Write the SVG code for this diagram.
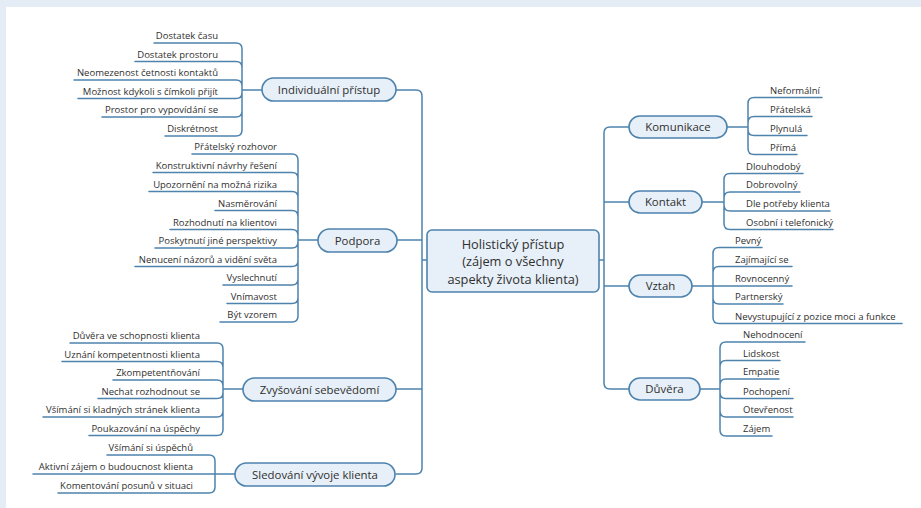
<svg xmlns="http://www.w3.org/2000/svg" width="921" height="508" viewBox="0 0 921 508">
<style>
.bg{fill:#ffffff}
.frame{fill:#e4ecf5}
.ln{fill:none;stroke:#4d83ad;stroke-width:1.5;stroke-linecap:round;stroke-linejoin:round}
.pill{fill:#e7eff8;stroke:#4d83ad;stroke-width:1.6}
.core{fill:#e7eff8;stroke:#4d83ad;stroke-width:1.6}
text{font-family:"Open Sans","Noto Sans","DejaVu Sans",sans-serif;fill:#2f2f2f}
.lf{font-size:9.5px}
.l{text-anchor:end}
.r{text-anchor:start}
.mn{font-size:11.4px;text-anchor:middle}
.ct{font-size:12.8px;text-anchor:middle}
</style>
<rect class="bg" x="0" y="0" width="921" height="508"/>
<rect class="frame" x="0" y="0" width="921" height="7"/>
<rect class="frame" x="0" y="0" width="6" height="508"/>

<g id="connectors">
  <!-- trunks -->
  <path class="ln" d="M396 90 H416 Q422 90 422 96 V260 M396 474 H416 Q422 474 422 468 V260 M397 240 H422 M396 389 H422 M422 260 H427"/>
  <path class="ln" d="M629 127 H610 Q604 127 604 133 V260 M629 389 H610 Q604 389 604 383 V260 M629 202 H604 M629 286 H604 M599 260 H604"/>
  <!-- Individuální přístup -->
  <path class="ln" d="M242 90 H262
    M154 43 H236 Q242 43 242 49 V90
    M135 61.5 H236 Q242 61.5 242 67.5 V90
    M74 80 H236 Q242 80 242 86 V90
    M78 98.5 H236 Q242 98.5 242 92.5 V90
    M102 117 H236 Q242 117 242 111 V90
    M165 136 H236 Q242 136 242 130 V90"/>
  <!-- Podpora -->
  <path class="ln" d="M298 240 H318
    M192 154 H292 Q298 154 298 160 V240
    M153 172.5 H292 Q298 172.5 298 178.5 V240
    M149 191.5 H292 Q298 191.5 298 197.5 V240
    M215 210.5 H292 Q298 210.5 298 216.5 V240
    M170 229.5 H292 Q298 229.5 298 235.5 V240
    M155 248 H292 Q298 248 298 242 V240
    M135 266.5 H292 Q298 266.5 298 260.5 V240
    M223 285 H292 Q298 285 298 279 V240
    M227 303.5 H292 Q298 303.5 298 297.5 V240
    M220 322 H292 Q298 322 298 316 V240"/>
  <!-- Zvyšování sebevědomí -->
  <path class="ln" d="M223 389 H243
    M70 343 H217 Q223 343 223 349 V389
    M62 361.5 H217 Q223 361.5 223 367.5 V389
    M113 380 H217 Q223 380 223 386 V389
    M98 398.5 H217 Q223 398.5 223 392.5 V389
    M43 417 H217 Q223 417 223 411 V389
    M89 435.5 H217 Q223 435.5 223 429.5 V389"/>
  <!-- Sledování vývoje klienta -->
  <path class="ln" d="M215 474 H235
    M107 455 H209 Q215 455 215 461 V474
    M33 474 H215
    M58 493 H209 Q215 493 215 487 V474"/>
  <!-- Komunikace -->
  <path class="ln" d="M727 127 H748
    M822 97.5 H754 Q748 97.5 748 103.5 V127
    M812 116.5 H754 Q748 116.5 748 122.5 V127
    M807 135.5 H754 Q748 135.5 748 129.5 V127
    M797 154.5 H754 Q748 154.5 748 148.5 V127"/>
  <!-- Kontakt -->
  <path class="ln" d="M702 202 H724
    M803 173.5 H730 Q724 173.5 724 179.5 V202
    M800 192 H730 Q724 192 724 198 V202
    M830 211 H730 Q724 211 724 205 V202
    M833 229.5 H730 Q724 229.5 724 223.5 V202"/>
  <!-- Vztah -->
  <path class="ln" d="M692 286 H713
    M762 247.5 H719 Q713 247.5 713 253.5 V286
    M792 266.5 H719 Q713 266.5 713 272.5 V286
    M792 286 H713
    M783 304 H719 Q713 304 713 298 V286
    M902 323.5 H719 Q713 323.5 713 317.5 V286"/>
  <!-- Důvěra -->
  <path class="ln" d="M700 389 H720
    M805 342 H726 Q720 342 720 348 V389
    M780 360.5 H726 Q720 360.5 720 366.5 V389
    M779 379 H726 Q720 379 720 385 V389
    M793 398.5 H726 Q720 398.5 720 392.5 V389
    M793 417 H726 Q720 417 720 411 V389
    M772 436 H726 Q720 436 720 430 V389"/>
</g>

<g id="center">
  <rect class="core" x="427" y="230" width="172" height="62" rx="5"/>
  <text class="ct" x="513" y="248.5">Holistický přístup</text>
  <text class="ct" x="513" y="266">(zájem o všechny</text>
  <text class="ct" x="513" y="283.5">aspekty života klienta)</text>
</g>

<g id="n-individualni">
  <rect class="pill" x="262" y="78" width="134" height="23" rx="11.5"/>
  <text class="mn" x="329" y="93.8">Individuální přístup</text>
</g>
<g id="n-podpora">
  <rect class="pill" x="318" y="229" width="79" height="23" rx="11.5"/>
  <text class="mn" x="357.5" y="244.8">Podpora</text>
</g>
<g id="n-zvysovani">
  <rect class="pill" x="243" y="378" width="153" height="23" rx="11.5"/>
  <text class="mn" x="319.5" y="393.8">Zvyšování sebevědomí</text>
</g>
<g id="n-sledovani">
  <rect class="pill" x="235" y="463" width="160" height="23" rx="11.5"/>
  <text class="mn" x="315" y="478.8">Sledování vývoje klienta</text>
</g>
<g id="n-komunikace">
  <rect class="pill" x="629" y="116" width="98" height="22" rx="11"/>
  <text class="mn" x="678" y="131.3">Komunikace</text>
</g>
<g id="n-kontakt">
  <rect class="pill" x="629" y="191" width="73" height="22" rx="11"/>
  <text class="mn" x="665.5" y="206.3">Kontakt</text>
</g>
<g id="n-vztah">
  <rect class="pill" x="629" y="275" width="63" height="22" rx="11"/>
  <text class="mn" x="660.5" y="290.3">Vztah</text>
</g>
<g id="n-duvera">
  <rect class="pill" x="629" y="378" width="71" height="22" rx="11"/>
  <text class="mn" x="664.5" y="393.3">Důvěra</text>
</g>

<g id="leaves-individualni">
  <text class="lf l" x="218" y="39">Dostatek času</text>
  <text class="lf l" x="218" y="57.5">Dostatek prostoru</text>
  <text class="lf l" x="218" y="76">Neomezenost četnosti kontaktů</text>
  <text class="lf l" x="218" y="94.5">Možnost kdykoli s čímkoli přijít</text>
  <text class="lf l" x="218" y="113">Prostor pro vypovídání se</text>
  <text class="lf l" x="218" y="132">Diskrétnost</text>
</g>
<g id="leaves-podpora">
  <text class="lf l" x="277" y="150">Přátelský rozhovor</text>
  <text class="lf l" x="277" y="168.5">Konstruktivní návrhy řešení</text>
  <text class="lf l" x="277" y="187.5">Upozornění na možná rizika</text>
  <text class="lf l" x="277" y="206.5">Nasměrování</text>
  <text class="lf l" x="277" y="225.5">Rozhodnutí na klientovi</text>
  <text class="lf l" x="277" y="244">Poskytnutí jiné perspektivy</text>
  <text class="lf l" x="277" y="262.5">Nenucení názorů a vidění světa</text>
  <text class="lf l" x="277" y="281">Vyslechnutí</text>
  <text class="lf l" x="277" y="299.5">Vnímavost</text>
  <text class="lf l" x="277" y="318">Být vzorem</text>
</g>
<g id="leaves-zvysovani">
  <text class="lf l" x="200" y="339">Důvěra ve schopnosti klienta</text>
  <text class="lf l" x="200" y="357.5">Uznání kompetentnosti klienta</text>
  <text class="lf l" x="200" y="376">Zkompetentňování</text>
  <text class="lf l" x="200" y="394.5">Nechat rozhodnout se</text>
  <text class="lf l" x="200" y="413">Všímání si kladných stránek klienta</text>
  <text class="lf l" x="200" y="431.5">Poukazování na úspěchy</text>
</g>
<g id="leaves-sledovani">
  <text class="lf l" x="193" y="451">Všímání si úspěchů</text>
  <text class="lf l" x="193" y="470">Aktivní zájem o budoucnost klienta</text>
  <text class="lf l" x="193" y="489">Komentování posunů v situaci</text>
</g>
<g id="leaves-komunikace">
  <text class="lf r" x="770" y="93.5">Neformální</text>
  <text class="lf r" x="770" y="112.5">Přátelská</text>
  <text class="lf r" x="770" y="131.5">Plynulá</text>
  <text class="lf r" x="770" y="150.5">Přímá</text>
</g>
<g id="leaves-kontakt">
  <text class="lf r" x="746" y="169.5">Dlouhodobý</text>
  <text class="lf r" x="746" y="188">Dobrovolný</text>
  <text class="lf r" x="746" y="207">Dle potřeby klienta</text>
  <text class="lf r" x="746" y="225.5">Osobní i telefonický</text>
</g>
<g id="leaves-vztah">
  <text class="lf r" x="735" y="243.5">Pevný</text>
  <text class="lf r" x="735" y="262.5">Zajímající se</text>
  <text class="lf r" x="735" y="282">Rovnocenný</text>
  <text class="lf r" x="735" y="300">Partnerský</text>
  <text class="lf r" x="735" y="319.5">Nevystupující z pozice moci a funkce</text>
</g>
<g id="leaves-duvera">
  <text class="lf r" x="743" y="338">Nehodnocení</text>
  <text class="lf r" x="743" y="356.5">Lidskost</text>
  <text class="lf r" x="743" y="375">Empatie</text>
  <text class="lf r" x="743" y="394.5">Pochopení</text>
  <text class="lf r" x="743" y="413">Otevřenost</text>
  <text class="lf r" x="743" y="432">Zájem</text>
</g>
</svg>
